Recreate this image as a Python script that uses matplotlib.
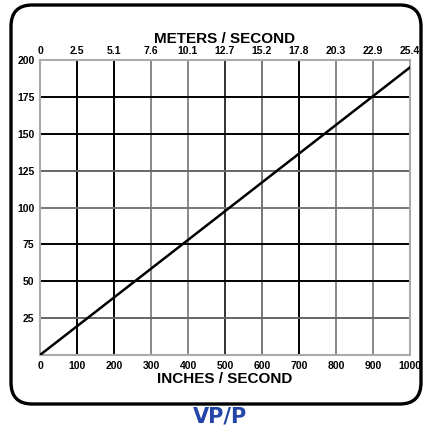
import matplotlib
matplotlib.use("Agg")
import matplotlib.pyplot as plt
from matplotlib.patches import FancyBboxPatch

# Data
inches_ticks = [0, 100, 200, 300, 400, 500, 600, 700, 800, 900, 1000]
meters_labels = ["0", "2.5", "5.1", "7.6", "10.1", "12.7", "15.2", "17.8", "20.3", "22.9", "25.4"]
y_ticks = [25, 50, 75, 100, 125, 150, 175, 200]
line_x = [0, 1000]
line_y = [0, 195]

v_colors = {100: "black", 200: "black", 300: "#888888", 400: "#888888", 500: "#333333",
            600: "#777777", 700: "black", 800: "#888888", 900: "#888888"}
h_colors = {25: "#666666", 50: "black", 75: "black", 100: "#777777", 125: "#666666",
            150: "black", 175: "black"}

W, H = 424, 430
fig = plt.figure(figsize=(W / 100, H / 100), dpi=100)
fig.patch.set_facecolor("white")

box = FancyBboxPatch((11 / W, (H - 404) / H), 410 / W, 399 / H,
                     boxstyle="round,pad=0,rounding_size=0.05",
                     transform=fig.transFigure, fill=False,
                     edgecolor="black", linewidth=2.4, zorder=0)
fig.patches.append(box)

ax = fig.add_axes([40 / W, (H - 355) / H, 370 / W, 295 / H])
ax.set_xlim(0, 1000)
ax.set_ylim(0, 200)

for x, c in v_colors.items():
    ax.axvline(x, color=c, linewidth=1.4, zorder=1)
for y, c in h_colors.items():
    ax.axhline(y, color=c, linewidth=1.4, zorder=1)

ax.plot(line_x, line_y, color="black", linewidth=1.8, zorder=3)

for s in ax.spines.values():
    s.set_color("#aaaaaa")
    s.set_linewidth(1.5)

fam = ["Liberation Sans", "DejaVu Sans"]
ax.set_xticks(inches_ticks)
ax.set_xticklabels([str(v) for v in inches_ticks], fontsize=7.5, fontweight="bold", family=fam)
ax.set_yticks(y_ticks)
ax.set_yticklabels([str(v) for v in y_ticks], fontsize=7.5, fontweight="bold", family=fam)
ax.tick_params(length=0, pad=4)
ax.set_xlabel("INCHES / SECOND", fontsize=11, fontweight="bold", family=fam, labelpad=1)

ax2 = ax.twiny()
ax2.set_xlim(0, 1000)
ax2.set_xticks(inches_ticks)
ax2.set_xticklabels(meters_labels, fontsize=7.5, fontweight="bold", family=fam)
ax2.tick_params(length=0, pad=3)
ax2.set_xlabel("METERS / SECOND", fontsize=11, fontweight="bold", family=fam, labelpad=2)
for s in ax2.spines.values():
    s.set_visible(False)

fig.text(220 / W, 1 - 417 / H, "VP/P", ha="center", va="center", fontsize=15,
         fontweight="bold", color="#2446a8", family=["DejaVu Sans"])

fig.savefig("out.png", dpi=100)
